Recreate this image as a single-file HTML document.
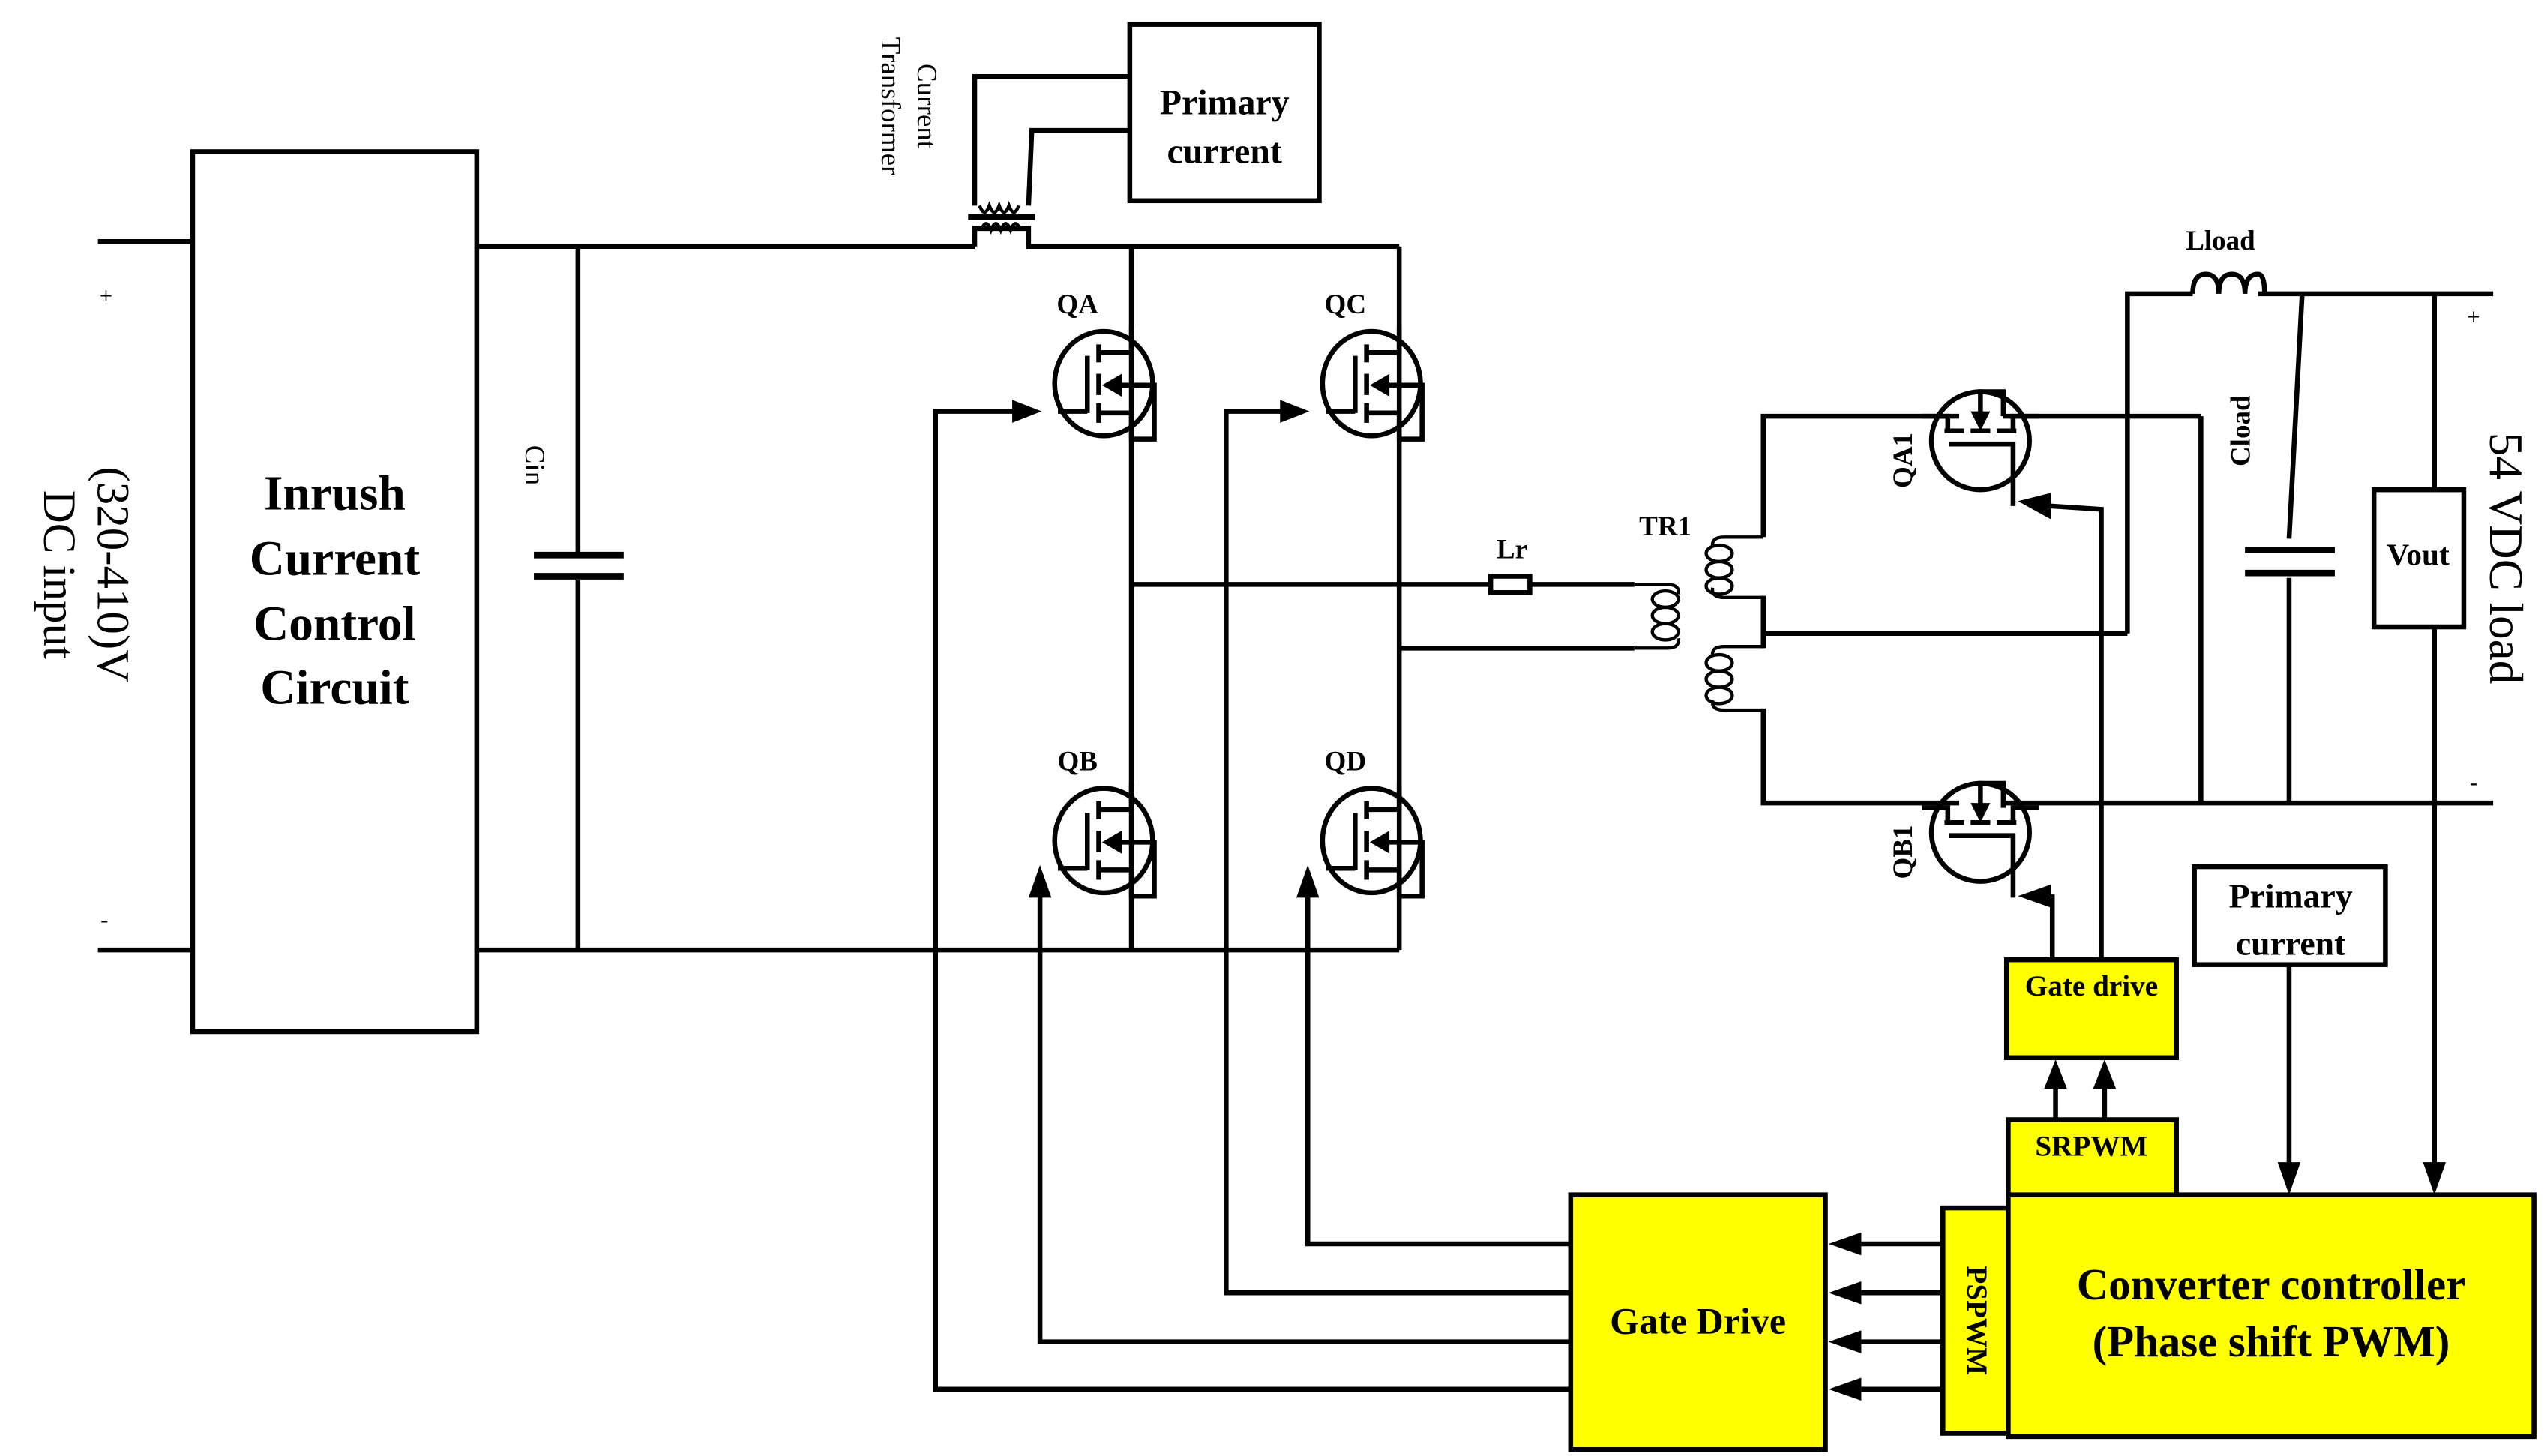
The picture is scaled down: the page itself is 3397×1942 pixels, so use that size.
<!DOCTYPE html>
<html><head><meta charset="utf-8"><style>
html,body{margin:0;padding:0;background:#fff}
svg{display:block}
text{font-family:"Liberation Serif",serif;fill:#000}
</style></head><body>
<svg width="3397" height="1942" viewBox="0 0 1560 892" preserveAspectRatio="none" xmlns="http://www.w3.org/2000/svg">
<defs>
<g id="fet">
 <ellipse cx="0" cy="0" rx="30" ry="32" fill="none" stroke="#000" stroke-width="3"/>
 <line x1="-28" y1="17" x2="-10" y2="17" stroke="#000" stroke-width="3"/>
 <line x1="-10" y1="-17" x2="-10" y2="18" stroke="#000" stroke-width="3"/>
 <line x1="-3" y1="-24" x2="-3" y2="-13" stroke="#000" stroke-width="3"/>
 <line x1="-3" y1="-6" x2="-3" y2="7" stroke="#000" stroke-width="3"/>
 <line x1="-3" y1="12" x2="-3" y2="24" stroke="#000" stroke-width="3"/>
 <polyline points="-3,-19 17,-19 17,-35" fill="none" stroke="#000" stroke-width="3"/>
 <polyline points="-3,18 17,18 17,35" fill="none" stroke="#000" stroke-width="3"/>
 <polyline points="2,1 31,1 31,34 17,34" fill="none" stroke="#000" stroke-width="3"/>
 <polygon points="-1,1 11,-6 11,8" fill="#000"/>
</g>
<g id="fet2">
 <circle cx="0" cy="0" r="30" fill="none" stroke="#000" stroke-width="3"/>
 <line x1="-22" y1="-6" x2="-10" y2="-6" stroke="#000" stroke-width="3"/>
 <line x1="-6" y1="-6" x2="6" y2="-6" stroke="#000" stroke-width="3"/>
 <line x1="10" y1="-6" x2="22" y2="-6" stroke="#000" stroke-width="3"/>
 <polyline points="-20,-6 -20,-15 -36,-15" fill="none" stroke="#000" stroke-width="3"/>
 <polyline points="20,-6 20,-15 36,-15" fill="none" stroke="#000" stroke-width="3"/>
 <polyline points="0,-9 0,-30 14,-30 14,-15" fill="none" stroke="#000" stroke-width="3"/>
 <polygon points="0,-6 -6,-18 6,-18" fill="#000"/>
 <polyline points="-19,2 2,2 0,2 20,2 20,40" fill="none" stroke="#000" stroke-width="3"/>
</g>
<g id="loops3">
 <ellipse cx="0" cy="0" rx="8" ry="5" fill="none" stroke="#000" stroke-width="2"/>
 <ellipse cx="0" cy="10" rx="8" ry="5" fill="none" stroke="#000" stroke-width="2"/>
 <ellipse cx="0" cy="20" rx="8" ry="5" fill="none" stroke="#000" stroke-width="2"/>
</g>
</defs>
<g stroke="#000" stroke-width="3" fill="none">
 <!-- input -->
 <line x1="60" y1="148" x2="118" y2="148"/>
 <line x1="60" y1="582" x2="118" y2="582"/>
 <rect x="118" y="93" width="174" height="539"/>
 <line x1="292" y1="151" x2="597" y2="151"/>
 <line x1="292" y1="582" x2="857" y2="582"/>
 <line x1="354" y1="151" x2="354" y2="339"/>
 <line x1="354" y1="355" x2="354" y2="582"/>
 <line x1="327" y1="340" x2="382" y2="340" stroke-width="4"/>
 <line x1="327" y1="353" x2="382" y2="353" stroke-width="4"/>
 <!-- current transformer -->
 <polyline points="597,151 597,140 630,140 630,151 857,151"/>
 <path d="M601,141 q3,-8 6,0 q3,-8 6,0 q3,-8 6,0 q3,-8 6,0" stroke-width="2"/>
 <line x1="593" y1="133" x2="634" y2="133" stroke-width="4"/>
 <polyline points="597,126 597,47 692,47"/>
 <polyline points="630,126 632,80 692,80"/>
 <path d="M600,126 q3,8 6,0 q3,8 6,0 q3,8 6,0 q3,8 6,0" stroke-width="2"/>
 <rect x="692" y="15" width="116" height="108"/>
 <!-- bridge -->
 <line x1="693" y1="151" x2="693" y2="582"/>
 <line x1="857" y1="151" x2="857" y2="582"/>
 <line x1="693" y1="358" x2="913" y2="358"/>
 <rect x="913" y="353" width="24" height="10"/>
 <line x1="937" y1="358" x2="1001" y2="358"/>
 <line x1="857" y1="397" x2="1001" y2="397"/>
 <!-- primary coil -->
 <path d="M1001,358 h20 q8,0 7,6" stroke-width="2"/>
 <path d="M1001,397 h20 q8,0 7,-6" stroke-width="2"/>
 <use href="#loops3" x="1020" y="367"/>
 <!-- secondary -->
 <polyline points="1200,255 1080,255 1080,329"/>
 <path d="M1080,329 h-24 q-8,0 -7,6" stroke-width="2"/>
 <use href="#loops3" x="1053" y="339"/>
 <path d="M1080,366 h-24 q-8,0 -7,-6" stroke-width="2"/>
 <line x1="1080" y1="365" x2="1080" y2="397"/>
 <line x1="1080" y1="388" x2="1303" y2="388"/>
 <path d="M1080,396 h-24 q-8,0 -7,6" stroke-width="2"/>
 <use href="#loops3" x="1053" y="406"/>
 <path d="M1080,435 h-24 q-8,0 -7,-6" stroke-width="2"/>
 <polyline points="1080,434 1080,492 1200,492"/>
 <polyline points="1303,388 1303,180 1343,180"/>
 <path d="M1343,180 q0,-12 8,-12 q8,0 8,12 q0,-12 8,-12 q8,0 8,12 q0,-12 8,-12 q4,0 4,12"/>
 <line x1="1383" y1="180" x2="1527" y2="180"/>
 <line x1="1227" y1="255" x2="1348" y2="255"/>
 <line x1="1348" y1="255" x2="1348" y2="492"/>
 <line x1="1227" y1="492" x2="1527" y2="492"/>
 <polyline points="1410,180 1402,330"/>
 <line x1="1402" y1="354" x2="1402" y2="492"/>
 <line x1="1375" y1="337" x2="1430" y2="337" stroke-width="4"/>
 <line x1="1375" y1="351" x2="1430" y2="351" stroke-width="4"/>
 <line x1="1491" y1="180" x2="1491" y2="300"/>
 <rect x="1454" y="300" width="55" height="84"/>
 <line x1="1491" y1="384" x2="1491" y2="715"/>
 <!-- SR gate lines -->
 <polyline points="1287,588 1287,312 1256,310"/>
 <polyline points="1257,588 1257,548"/>
 <!-- primary current box right -->
 <rect x="1344" y="531" width="117" height="60"/>
 <line x1="1402" y1="591" x2="1402" y2="715"/>
 <!-- gate lines -->
 <polyline points="962,762 801,762 801,548"/>
 <polyline points="962,792 751,792 751,252 785,252"/>
 <polyline points="962,822 637,822 637,548"/>
 <polyline points="962,851 573,851 573,252 622,252"/>
 <line x1="1140" y1="762" x2="1190" y2="762"/>
 <line x1="1140" y1="792" x2="1190" y2="792"/>
 <line x1="1140" y1="822" x2="1190" y2="822"/>
 <line x1="1140" y1="851" x2="1190" y2="851"/>
 <line x1="1259" y1="686" x2="1259" y2="665"/>
 <line x1="1289" y1="686" x2="1289" y2="665"/>
</g>
<!-- arrowheads -->
<g fill="#000">
 <polygon points="638,252 620,245 620,259"/>
 <polygon points="802,252 784,245 784,259"/>
 <polygon points="637,530 630,550 644,550"/>
 <polygon points="801,530 794,550 808,550"/>
 <polygon points="1120,762 1140,755 1140,769"/>
 <polygon points="1120,792 1140,785 1140,799"/>
 <polygon points="1120,822 1140,815 1140,829"/>
 <polygon points="1120,851 1140,844 1140,858"/>
 <polygon points="1259,649 1252,667 1266,667"/>
 <polygon points="1289,649 1282,667 1296,667"/>
 <polygon points="1402,732 1395,712 1409,712"/>
 <polygon points="1491,732 1484,712 1498,712"/>
 <polygon points="1236,307 1256,302 1256,318"/>
 <polygon points="1236,549 1256,542 1256,556"/>
</g>
<use href="#fet" x="676" y="235"/>
<use href="#fet" x="840" y="235"/>
<use href="#fet" x="676" y="515"/>
<use href="#fet" x="840" y="515"/>
<use href="#fet2" x="1213" y="270"/>
<use href="#fet2" x="1213" y="510"/>
<!-- yellow boxes -->
<g stroke="#000" stroke-width="3" fill="#ffff00">
 <rect x="962" y="732" width="156" height="156"/>
 <rect x="1190" y="740" width="40" height="138"/>
 <rect x="1230" y="732" width="322" height="148"/>
 <rect x="1230" y="686" width="103" height="46"/>
 <rect x="1229" y="588" width="104" height="60"/>
</g>
<!-- text -->
<g font-weight="bold">
 <text x="205" y="312" font-size="30" text-anchor="middle">Inrush</text>
 <text x="205" y="352" font-size="30" text-anchor="middle">Current</text>
 <text x="205" y="392" font-size="30" text-anchor="middle">Control</text>
 <text x="205" y="431" font-size="30" text-anchor="middle">Circuit</text>
 <text x="1040" y="817" font-size="23" text-anchor="middle">Gate Drive</text>
 <text x="1391" y="796" font-size="27" text-anchor="middle">Converter controller</text>
 <text x="1391" y="831" font-size="27" text-anchor="middle">(Phase shift PWM)</text>
 <text x="1281" y="708" font-size="18" text-anchor="middle">SRPWM</text>
 <text x="1281" y="610" font-size="18" text-anchor="middle">Gate drive</text>
 <text x="1403" y="556" font-size="21" text-anchor="middle">Primary</text>
 <text x="1403" y="585" font-size="21" text-anchor="middle">current</text>
 <text x="750" y="70" font-size="22" text-anchor="middle">Primary</text>
 <text x="750" y="100" font-size="22" text-anchor="middle">current</text>
 <text transform="translate(1205,809) rotate(90)" font-size="18" text-anchor="middle">PSPWM</text>
 <text x="660" y="192" font-size="17" text-anchor="middle">QA</text>
 <text x="824" y="192" font-size="17" text-anchor="middle">QC</text>
 <text x="660" y="472" font-size="17" text-anchor="middle">QB</text>
 <text x="824" y="472" font-size="17" text-anchor="middle">QD</text>
 <text x="926" y="342" font-size="17" text-anchor="middle">Lr</text>
 <text x="1020" y="328" font-size="17" text-anchor="middle">TR1</text>
 <text x="1360" y="153" font-size="17" text-anchor="middle">Lload</text>
 <text transform="translate(1171,282) rotate(-90)" font-size="17" text-anchor="middle">QA1</text>
 <text transform="translate(1171,522) rotate(-90)" font-size="17" text-anchor="middle">QB1</text>
 <text transform="translate(1378,264) rotate(-90)" font-size="17" text-anchor="middle">Cload</text>
 <text x="1481" y="346" font-size="19" text-anchor="middle">Vout</text>
</g>
<text transform="translate(322,285) rotate(90)" font-size="17" text-anchor="middle">Cin</text>
<text transform="translate(562,65) rotate(90)" font-size="17" text-anchor="middle">Current</text>
<text transform="translate(540,65) rotate(90)" font-size="17" text-anchor="middle">Transformer</text>
<text transform="translate(60,352) rotate(90)" font-size="28" text-anchor="middle">(320-410)V</text>
<text transform="translate(27,352) rotate(90)" font-size="28" text-anchor="middle">DC input</text>
<text transform="translate(1525,342) rotate(90)" font-size="29" text-anchor="middle">54 VDC load</text>
<text x="65" y="186" font-size="14" text-anchor="middle">+</text>
<text x="64" y="568" font-size="14" text-anchor="middle">-</text>
<text x="1515" y="199" font-size="14" text-anchor="middle">+</text>
<text x="1515" y="484" font-size="14" text-anchor="middle">-</text>
</svg>
</body></html>
